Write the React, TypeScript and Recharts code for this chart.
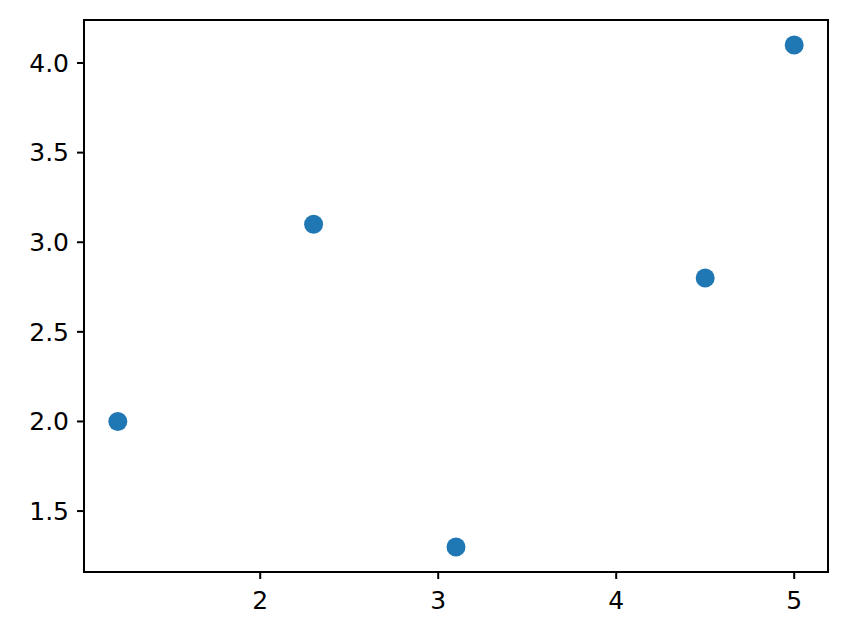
import { ScatterChart, Scatter, XAxis, YAxis, ReferenceArea } from "recharts";

const xValues = [1.2, 2.3, 3.1, 4.5, 5.0];
const yValues = [2.0, 3.1, 1.3, 2.8, 4.1];
const xTicks = [2, 3, 4, 5];
const yTicks = [1.5, 2.0, 2.5, 3.0, 3.5, 4.0];

const points = xValues.map((x, i) => ({ x, y: yValues[i] }));

// matplotlib-style 5% margins
const pad = (vals: number[]) => {
  const lo = Math.min(...vals);
  const hi = Math.max(...vals);
  const m = (hi - lo) * 0.05;
  return [lo - m, hi + m];
};
const xDomain = pad(xValues);
const yDomain = pad(yValues);

const tickStyle = { fill: "#000", fontSize: 25, fontFamily: "DejaVu Sans" };
const line = { stroke: "#000", strokeWidth: 2 };

export default function App() {
  return (
    <div style={{ position: "absolute", left: 0, top: 0, width: 847, height: 641, background: "#fff" }}>
      <ScatterChart width={847} height={641} margin={{ top: 20, right: 19, bottom: 19, left: 14 }}>
        <XAxis
          dataKey="x"
          type="number"
          domain={xDomain}
          ticks={xTicks}
          allowDataOverflow
          height={50}
          tick={tickStyle}
          tickSize={7}
          tickMargin={12}
          axisLine={line}
          tickLine={line}
        />
        <YAxis
          dataKey="y"
          type="number"
          domain={yDomain}
          ticks={yTicks}
          allowDataOverflow
          width={70}
          tick={tickStyle}
          tickFormatter={(v: number) => v.toFixed(1)}
          tickSize={7}
          tickMargin={8}
          axisLine={line}
          tickLine={line}
        />
        {/* axes frame */}
        <ReferenceArea
          x1={xDomain[0]}
          x2={xDomain[1]}
          y1={yDomain[0]}
          y2={yDomain[1]}
          fill="none"
          stroke="#000"
          strokeWidth={2}
          ifOverflow="visible"
        />
        <Scatter
          data={points}
          fill="#1f77b4"
          isAnimationActive={false}
          shape={(p: any) => <circle cx={p.cx} cy={p.cy} r={9.5} fill="#1f77b4" />}
        />
      </ScatterChart>
    </div>
  );
}
